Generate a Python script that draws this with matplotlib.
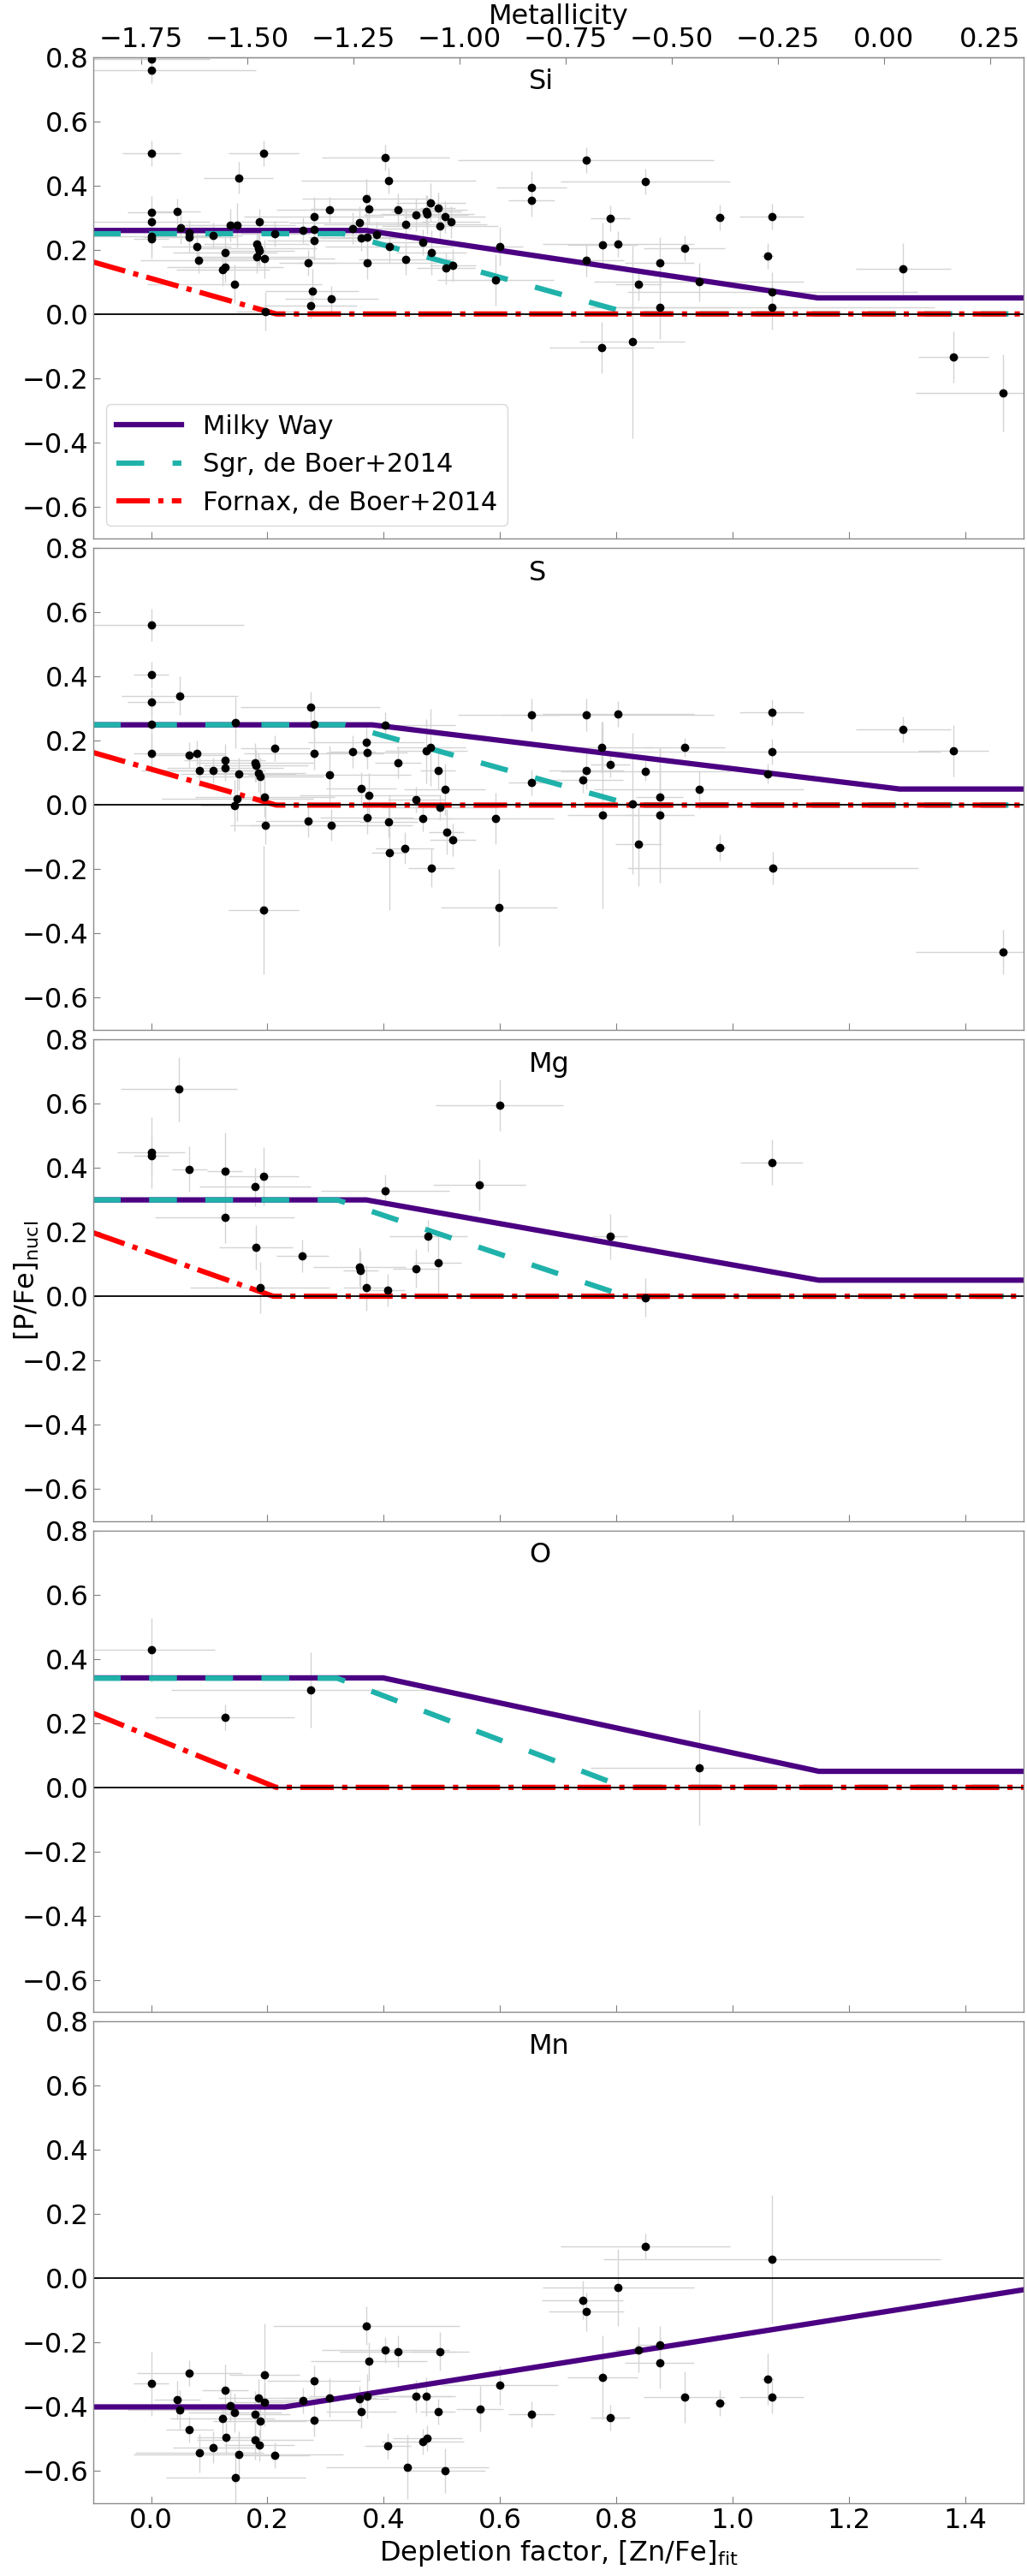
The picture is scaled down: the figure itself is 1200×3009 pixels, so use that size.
import numpy as np
import matplotlib
matplotlib.use('Agg')
import matplotlib.pyplot as plt
from matplotlib.ticker import FixedLocator

plt.rcParams['font.family'] = 'DejaVu Sans'
plt.rcParams['mathtext.fontset'] = 'dejavusans'

# ---------------- data ----------------
# Si
si_d = [0.0, 0.0, 0.0, 0.0, 0.0, 0.0, 0.0, 0.045, 0.05, 0.066, 0.066, 0.078, 0.082, 0.106,
        0.127, 0.127, 0.123, 0.136, 0.148, 0.15, 0.144, 0.181, 0.185, 0.186, 0.181, 0.195,
        0.186, 0.193, 0.196, 0.213, 0.261, 0.27, 0.274, 0.277, 0.28, 0.28, 0.28, 0.306,
        0.31, 0.346, 0.358, 0.361, 0.37, 0.372, 0.371, 0.375, 0.387, 0.403, 0.408, 0.409,
        0.424, 0.437, 0.437, 0.455, 0.467, 0.473, 0.475, 0.481, 0.482, 0.493, 0.496, 0.505,
        0.507, 0.515, 0.519, 0.592, 0.599, 0.654, 0.654, 0.748, 0.85, 0.789, 0.776, 0.803,
        0.748, 0.874, 0.917, 0.838, 0.942, 0.978, 1.067, 1.06, 1.068, 1.067, 0.874, 0.775,
        0.827, 1.293, 1.379, 1.465]
si_y = [0.795, 0.76, 0.5, 0.317, 0.287, 0.242, 0.233, 0.32, 0.269, 0.253, 0.24, 0.209, 0.166,
        0.244, 0.191, 0.147, 0.138, 0.276, 0.276, 0.424, 0.093, 0.218, 0.204, 0.197, 0.178,
        0.172, 0.286, 0.5, 0.008, 0.251, 0.26, 0.159, 0.025, 0.071, 0.304, 0.264, 0.228,
        0.324, 0.048, 0.267, 0.285, 0.236, 0.36, 0.24, 0.159, 0.328, 0.246, 0.486, 0.416,
        0.209, 0.324, 0.278, 0.171, 0.308, 0.222, 0.32, 0.311, 0.347, 0.191, 0.329, 0.274,
        0.302, 0.142, 0.286, 0.151, 0.107, 0.21, 0.394, 0.353, 0.48, 0.412, 0.297, 0.215,
        0.217, 0.166, 0.158, 0.204, 0.092, 0.1, 0.3, 0.302, 0.18, 0.069, 0.021, 0.021,
        -0.106, -0.087, 0.141, -0.133, -0.245]
si_xe = [0.10, 0.18, 0.05, 0.04, 0.10, 0.12, 0.03, 0.04, 0.06, 0.05, 0.08, 0.06, 0.10, 0.05,
         0.09, 0.10, 0.08, 0.08, 0.10, 0.06, 0.15, 0.09, 0.10, 0.06, 0.10, 0.12, 0.05, 0.06,
         0.05, 0.06, 0.09, 0.05, 0.08, 0.08, 0.12, 0.10, 0.08, 0.09, 0.08, 0.10, 0.12, 0.07,
         0.11, 0.10, 0.12, 0.10, 0.07, 0.11, 0.15, 0.11, 0.12, 0.14, 0.08, 0.09, 0.07, 0.06,
         0.08, 0.06, 0.06, 0.03, 0.10, 0.07, 0.05, 0.05, 0.04, 0.10, 0.04, 0.06, 0.04, 0.22,
         0.146, 0.034, 0.06, 0.13, 0.065, 0.06, 0.07, 0.04, 0.18, 0.01, 0.055, 0.01, 0.25,
         0.28, 0.12, 0.09, 0.09, 0.082, 0.06, 0.15]
si_ye = [0.04, 0.04, 0.04, 0.05, 0.05, 0.06, 0.06, 0.04, 0.05, 0.04, 0.05, 0.04, 0.04, 0.04,
         0.05, 0.05, 0.05, 0.05, 0.07, 0.05, 0.06, 0.05, 0.05, 0.05, 0.05, 0.06, 0.04, 0.04,
         0.06, 0.04, 0.04, 0.04, 0.04, 0.07, 0.06, 0.07, 0.06, 0.04, 0.04, 0.05, 0.05, 0.04,
         0.06, 0.06, 0.05, 0.05, 0.04, 0.04, 0.04, 0.05, 0.05, 0.05, 0.05, 0.05, 0.04, 0.05,
         0.06, 0.06, 0.07, 0.05, 0.05, 0.05, 0.05, 0.05, 0.05, 0.08, 0.06, 0.05, 0.05, 0.04,
         0.04, 0.04, 0.07, 0.04, 0.05, 0.08, 0.04, 0.05, 0.06, 0.04, 0.04, 0.04, 0.06, 0.07,
         0.10, 0.08, 0.30, 0.08, 0.08, 0.12]

# S
s_d = [0.0, 0.0, 0.0, 0.0, 0.0, 0.049, 0.066, 0.078, 0.083, 0.107, 0.127, 0.127, 0.145, 0.15,
       0.148, 0.144, 0.179, 0.18, 0.185, 0.187, 0.195, 0.196, 0.193, 0.213, 0.27, 0.274, 0.28,
       0.28, 0.307, 0.31, 0.346, 0.361, 0.37, 0.371, 0.375, 0.371, 0.403, 0.408, 0.409, 0.424,
       0.436, 0.456, 0.467, 0.473, 0.481, 0.482, 0.493, 0.496, 0.505, 0.508, 0.519, 0.592,
       0.598, 0.654, 0.654, 0.748, 0.803, 0.775, 0.789, 0.748, 0.742, 0.85, 0.917, 0.874,
       0.827, 0.776, 0.874, 0.942, 0.838, 0.978, 1.067, 1.067, 1.06, 1.069, 1.293, 1.379, 1.465]
s_y = [0.561, 0.406, 0.322, 0.251, 0.162, 0.34, 0.157, 0.161, 0.107, 0.109, 0.141, 0.116, 0.258,
       0.097, 0.02, -0.001, 0.132, 0.123, 0.1, 0.089, 0.024, -0.062, -0.327, 0.177, -0.05,
       0.304, 0.251, 0.16, 0.095, -0.062, 0.167, 0.052, 0.195, 0.163, 0.03, -0.039, 0.249,
       -0.051, -0.148, 0.133, -0.134, 0.018, -0.041, 0.168, 0.18, -0.196, 0.108, -0.006,
       0.048, -0.083, -0.108, -0.041, -0.318, 0.281, 0.07, 0.281, 0.284, 0.179, 0.126, 0.108,
       0.078, 0.106, 0.18, 0.026, 0.004, -0.031, -0.031, 0.048, -0.121, -0.132, 0.288, 0.167,
       0.098, -0.196, 0.236, 0.169, -0.458]
s_xe = [0.16, 0.03, 0.04, 0.12, 0.03, 0.10, 0.06, 0.05, 0.10, 0.09, 0.07, 0.10, 0.09, 0.10, 0.13,
        0.06, 0.10, 0.09, 0.08, 0.11, 0.12, 0.06, 0.06, 0.06, 0.09, 0.12, 0.08, 0.12, 0.14, 0.14,
        0.04, 0.06, 0.10, 0.07, 0.12, 0.08, 0.12, 0.05, 0.03, 0.04, 0.05, 0.05, 0.05, 0.07, 0.06,
        0.04, 0.03, 0.10, 0.07, 0.03, 0.04, 0.10, 0.10, 0.05, 0.04, 0.22, 0.13, 0.09, 0.034,
        0.065, 0.07, 0.146, 0.07, 0.04, 0.09, 0.06, 0.06, 0.18, 0.04, 0.01, 0.055, 0.29, 0.01,
        0.25, 0.082, 0.06, 0.15]
s_ye = [0.05, 0.04, 0.04, 0.07, 0.06, 0.06, 0.04, 0.04, 0.05, 0.04, 0.05, 0.04, 0.08, 0.05, 0.07,
        0.08, 0.06, 0.05, 0.06, 0.06, 0.06, 0.06, 0.20, 0.04, 0.05, 0.05, 0.05, 0.05, 0.09, 0.05,
        0.05, 0.05, 0.05, 0.05, 0.07, 0.05, 0.04, 0.05, 0.18, 0.05, 0.05, 0.04, 0.04, 0.10, 0.12,
        0.06, 0.06, 0.04, 0.08, 0.07, 0.05, 0.08, 0.12, 0.05, 0.04, 0.05, 0.04, 0.08, 0.04, 0.06,
        0.04, 0.03, 0.03, 0.15, 0.22, 0.29, 0.21, 0.06, 0.13, 0.04, 0.04, 0.04, 0.03, 0.05, 0.04,
        0.08, 0.07]

# Mg
mg_d = [0.0, 0.0, 0.048, 0.066, 0.127, 0.127, 0.179, 0.193, 0.18, 0.187, 0.26, 0.358, 0.36,
        0.37, 0.402, 0.406, 0.456, 0.476, 0.493, 0.564, 0.599, 0.789, 0.85, 1.067]
mg_y = [0.447, 0.438, 0.645, 0.396, 0.389, 0.245, 0.341, 0.374, 0.152, 0.028, 0.126, 0.092,
        0.081, 0.026, 0.329, 0.019, 0.086, 0.188, 0.103, 0.346, 0.596, 0.186, -0.004, 0.417]
mg_xe = [0.058, 0.03, 0.10, 0.03, 0.03, 0.12, 0.096, 0.06, 0.063, 0.12, 0.045, 0.08, 0.03, 0.04,
         0.11, 0.03, 0.04, 0.067, 0.04, 0.08, 0.11, 0.03, 0.04, 0.054]
mg_ye = [0.11, 0.06, 0.10, 0.07, 0.12, 0.08, 0.06, 0.09, 0.07, 0.08, 0.05, 0.06, 0.06, 0.07,
         0.05, 0.05, 0.06, 0.05, 0.10, 0.08, 0.08, 0.07, 0.06, 0.07]

# O
o_d = [0.0, 0.127, 0.275, 0.942]
o_y = [0.428, 0.218, 0.303, 0.061]
o_xe = [0.11, 0.12, 0.24, 0.187]
o_ye = [0.10, 0.04, 0.118, 0.18]

# Mn
mn_d = [0.0, 0.045, 0.049, 0.066, 0.066, 0.083, 0.107, 0.123, 0.127, 0.128, 0.136, 0.144, 0.15,
        0.145, 0.179, 0.179, 0.185, 0.187, 0.186, 0.195, 0.195, 0.213, 0.261, 0.28, 0.28, 0.307,
        0.358, 0.361, 0.37, 0.371, 0.375, 0.403, 0.407, 0.424, 0.441, 0.456, 0.467, 0.473,
        0.475, 0.493, 0.496, 0.505, 0.565, 0.599, 0.654, 0.85, 1.067, 0.803, 0.742, 0.748,
        0.838, 0.874, 0.874, 0.776, 0.789, 0.917, 0.978, 1.06, 1.067]
mn_y = [-0.328, -0.378, -0.409, -0.294, -0.472, -0.543, -0.526, -0.437, -0.348, -0.495, -0.396,
        -0.418, -0.547, -0.619, -0.422, -0.503, -0.373, -0.444, -0.52, -0.301, -0.385, -0.551,
        -0.379, -0.32, -0.441, -0.371, -0.376, -0.415, -0.148, -0.367, -0.258, -0.223, -0.522,
        -0.227, -0.588, -0.367, -0.508, -0.367, -0.497, -0.415, -0.228, -0.599, -0.406, -0.333,
        -0.424, 0.1, 0.06, -0.028, -0.067, -0.103, -0.222, -0.207, -0.264, -0.308, -0.433,
        -0.369, -0.388, -0.314, -0.369]
mn_xe = [0.03, 0.04, 0.09, 0.09, 0.04, 0.11, 0.07, 0.09, 0.04, 0.05, 0.10, 0.08, 0.18, 0.12,
         0.06, 0.10, 0.07, 0.08, 0.06, 0.06, 0.06, 0.06, 0.06, 0.08, 0.08, 0.08, 0.05, 0.06,
         0.16, 0.10, 0.10, 0.11, 0.04, 0.10, 0.14, 0.06, 0.07, 0.05, 0.06, 0.03, 0.05, 0.07,
         0.04, 0.10, 0.04, 0.146, 0.29, 0.13, 0.07, 0.065, 0.04, 0.04, 0.06, 0.06, 0.034, 0.07,
         0.01, 0.01, 0.055]
mn_ye = [0.10, 0.06, 0.06, 0.04, 0.04, 0.06, 0.05, 0.05, 0.08, 0.05, 0.05, 0.06, 0.07, 0.08,
         0.07, 0.06, 0.06, 0.06, 0.05, 0.16, 0.06, 0.04, 0.04, 0.05, 0.05, 0.06, 0.04, 0.05,
         0.06, 0.07, 0.06, 0.04, 0.04, 0.05, 0.10, 0.05, 0.04, 0.06, 0.04, 0.04, 0.06, 0.07,
         0.07, 0.06, 0.04, 0.04, 0.20, 0.12, 0.06, 0.06, 0.07, 0.06, 0.08, 0.13, 0.04, 0.08,
         0.04, 0.08, 0.05]

# model tracks (knots in depletion factor)
mw_d = {'Si': [-0.1, 0.37, 1.146, 1.5], 'S': [-0.1, 0.38, 1.287, 1.5],
        'Mg': [-0.1, 0.37, 1.148, 1.5], 'O': [-0.1, 0.399, 1.148, 1.5],
        'Mn': [-0.1, 0.23, 1.5]}
mw_y = {'Si': [0.26, 0.26, 0.05, 0.05], 'S': [0.25, 0.25, 0.05, 0.05],
        'Mg': [0.30, 0.30, 0.05, 0.05], 'O': [0.341, 0.341, 0.05, 0.05],
        'Mn': [-0.40, -0.40, -0.035]}
sgr_d = {'Si': [-0.1, 0.33, 0.826, 1.5], 'S': [-0.1, 0.332, 0.828, 1.5],
         'Mg': [-0.1, 0.32, 0.816, 1.5], 'O': [-0.1, 0.32, 0.814, 1.5]}
sgr_y = {'Si': [0.25, 0.25, 0.0, 0.0], 'S': [0.25, 0.25, 0.0, 0.0],
         'Mg': [0.30, 0.30, 0.0, 0.0], 'O': [0.34, 0.34, 0.0, 0.0]}
fnx_d = {'Si': [-0.1, 0.215, 1.5], 'S': [-0.1, 0.215, 1.5],
         'Mg': [-0.1, 0.21, 1.5], 'O': [-0.1, 0.215, 1.5]}
fnx_y = {'Si': [0.162, 0.0, 0.0], 'S': [0.164, 0.0, 0.0],
         'Mg': [0.198, 0.0, 0.0], 'O': [0.231, 0.0, 0.0]}

elements = ['Si', 'S', 'Mg', 'O', 'Mn']
pts = {'Si': (si_d, si_y, si_xe, si_ye), 'S': (s_d, s_y, s_xe, s_ye),
       'Mg': (mg_d, mg_y, mg_xe, mg_ye), 'O': (o_d, o_y, o_xe, o_ye),
       'Mn': (mn_d, mn_y, mn_xe, mn_ye)}


def d2m(d):
    return (np.asarray(d) - 1.26) / 0.73


def m2d(m):
    return 0.73 * np.asarray(m) + 1.26


fs = 23
fig = plt.figure(figsize=(12, 30.09), dpi=100)

left, width = 0.0905, 0.9062
h, pitch, bottom0 = 0.18694, 0.19066, 0.02825

axes = []
for i, el in enumerate(elements):
    b = bottom0 + (4 - i) * pitch
    ax = fig.add_axes([left, b, width, h])
    axes.append(ax)

    d, y, xe, ye = pts[el]
    # error bars underneath, lines above, points on top
    ax.errorbar(d, y, xerr=xe, yerr=ye, fmt='none', ecolor='#d4d4d4',
                elinewidth=1.0, capsize=0, zorder=1.5)

    ax.plot(mw_d[el], mw_y[el], color='indigo', lw=4.5, solid_joinstyle='miter',
            label='Milky Way', zorder=2)
    if el in sgr_d:
        ax.plot(sgr_d[el], sgr_y[el], color='lightseagreen', lw=4.5, ls='--',
                dashes=(5.2, 5.3), label='Sgr, de Boer+2014', zorder=2.1)
        ax.plot(fnx_d[el], fnx_y[el], color='red', lw=4.4, ls='-.',
                label='Fornax, de Boer+2014', zorder=2.2)
    ax.axhline(0, color='black', lw=1.3, zorder=2.5)

    ax.plot(d, y, 'o', color='black', ms=6, zorder=3)

    ax.text(0.65, 0.7, el, fontsize=fs, ha='left', va='baseline')

    ax.set_xlim(-0.1, 1.5)
    ax.set_ylim(-0.7, 0.8)
    ax.set_yticks(np.arange(-0.6, 0.81, 0.2))
    ax.set_xticks(np.arange(0.0, 1.41, 0.2))
    ax.tick_params(direction='in', labelsize=fs, length=6, color='0.5')
    for sp in ax.spines.values():
        sp.set_color('0.55')
        sp.set_linewidth(1.0)
    if i < 4:
        ax.tick_params(labelbottom=False)

# top metallicity axis on the first panel
sec = axes[0].secondary_xaxis('top', functions=(d2m, m2d))
sec.xaxis.set_major_locator(FixedLocator(np.arange(-1.75, 0.26, 0.25)))
sec.tick_params(direction='in', labelsize=fs, length=6, color='0.5')
sec.set_xlabel('Metallicity', fontsize=fs, labelpad=2)

leg = axes[0].legend(loc='lower left', fontsize=22, handlelength=2.5,
                     framealpha=1.0, edgecolor='0.85')

axes[-1].set_xlabel(r'Depletion factor, [Zn/Fe]$_{\rm fit}$', fontsize=fs)
fig.text(0.012, 0.503, r'[P/Fe]$_{\rm nucl}$', fontsize=fs, rotation=90,
         ha='left', va='center')

fig.savefig('out.png', dpi=100)
